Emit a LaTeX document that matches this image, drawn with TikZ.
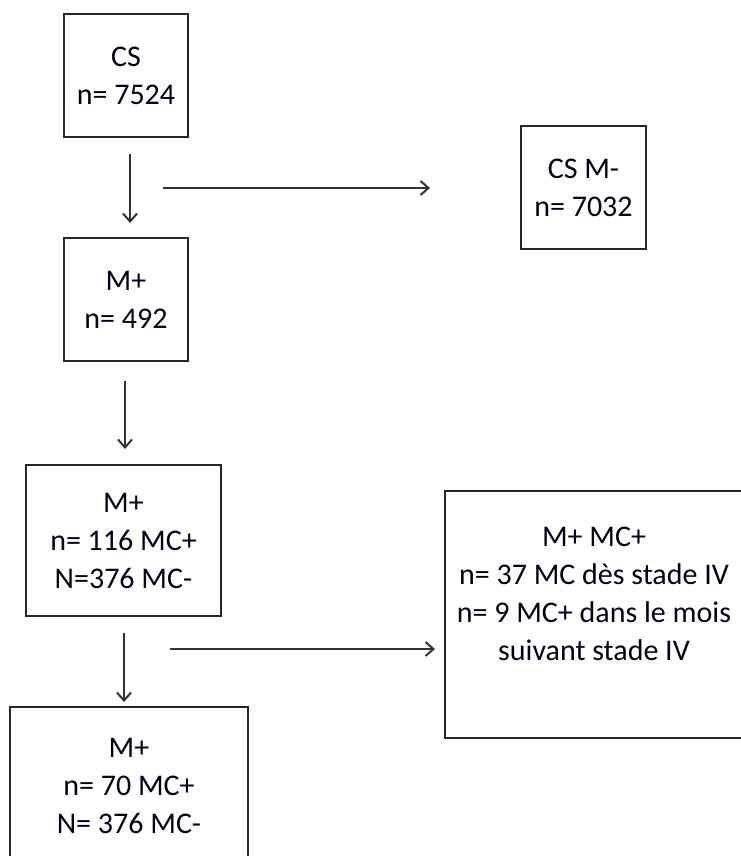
\documentclass[tikz,border=0pt]{standalone}
\usepackage{fontspec}
\setmainfont{Carlito}
\usetikzlibrary{arrows.meta}
\begin{document}
\begin{tikzpicture}[x=1pt,y=-1pt,
  box/.style={draw=black!85,line width=2pt,align=center,inner sep=0pt,
    font=\fontsize{30}{38}\selectfont,text=black!90!blue},
  arr/.style={draw=black!80,line width=2pt,-{Straight Barb[length=8pt,width=14pt,line width=2pt]}}]
\useasboundingbox[fill=white] (0,0) rectangle (740,856);
\node[box,minimum width=124pt,minimum height=123pt] (cs) at (126,75.5) {CS\\n= 7524};
\node[box,minimum width=125pt,minimum height=123pt] (csm) at (583.5,187.5) {CS M-\\n= 7032};
\node[box,minimum width=124pt,minimum height=123pt] (m1) at (126,299.5) {M+\\n= 492};
\node[box,minimum width=195pt,minimum height=151pt] (m2) at (123.5,540.5) {M+\\n= 116 MC+\\N=376 MC-};
\node[box,minimum width=298pt,minimum height=247pt] (mc) at (594,614.5) {M+ MC+\\n= 37 MC dès stade IV\\n= 9 MC+ dans le mois\\suivant stade IV\\[4pt]};
\node[box,minimum width=238pt,minimum height=158pt] (m3) at (129,786) {M+\\n= 70 MC+\\N= 376 MC-};
\coordinate (h1s) at (163,188);
\coordinate (h1e) at (430,188);
\coordinate (h2s) at (170,649);
\coordinate (h2e) at (435,649);
\draw[arr,shorten <=16pt,shorten >=14pt] ([xshift=4pt]cs.south) -- ([xshift=4pt]m1.north);
\draw[arr] (h1s) -- (h1e);
\draw[arr,shorten <=19pt,shorten >=15pt] ([xshift=-1pt]m1.south) -- ([xshift=1.5pt]m2.north);
\draw[arr,shorten <=16pt,shorten >=4pt] ([xshift=0.5pt]m2.south) -- ([xshift=-5pt]m3.north);
\draw[arr] (h2s) -- (h2e);
\end{tikzpicture}
\end{document}
